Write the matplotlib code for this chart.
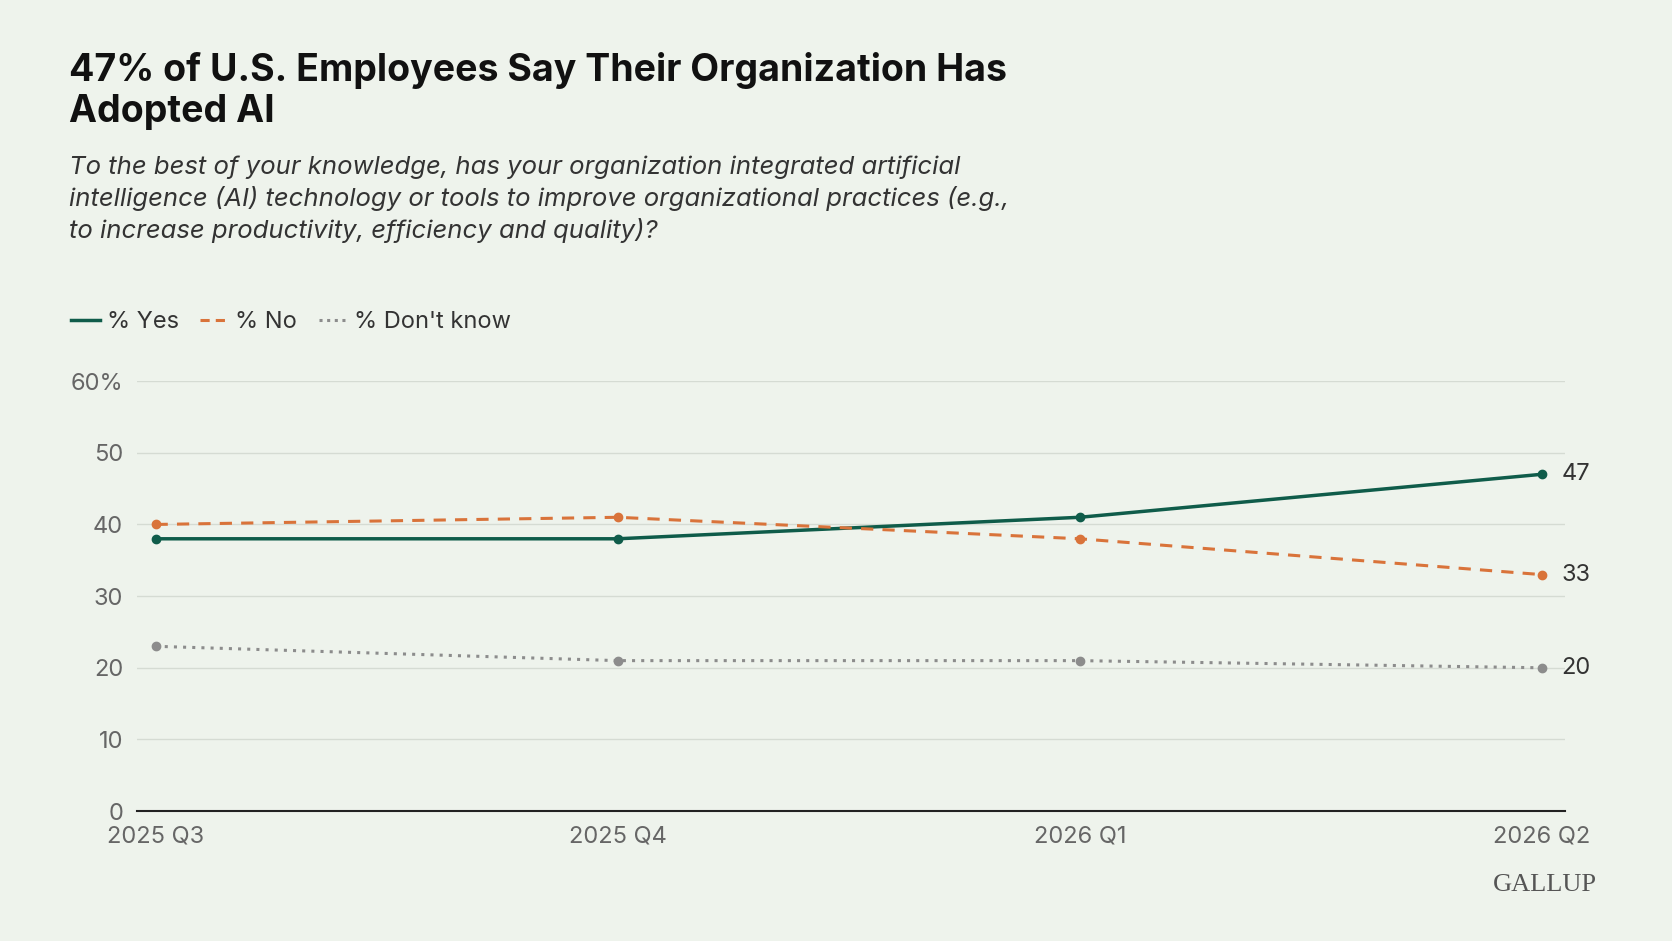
import matplotlib.pyplot as plt
from matplotlib.lines import Line2D

quarters = ['2025 Q3', '2025 Q4', '2026 Q1', '2026 Q2']
yes = [38, 38, 41, 47]
no = [40, 41, 38, 33]
dont_know = [23, 21, 21, 20]
y_ticks = [0, 10, 20, 30, 40, 50, 60]
y_labels = ['0', '10', '20', '30', '40', '50', '60%']

bg = '#eef3ec'
green = '#0f5c4a'
orange = '#d9733a'
grey = '#8c8c8c'

plt.rcParams['font.family'] = ['Inter', 'DejaVu Sans']

fig = plt.figure(figsize=(16.72, 9.41), dpi=100, facecolor=bg)
ax = fig.add_axes([0.082, 0.138, 0.854, 0.457], facecolor=bg)

x = list(range(len(quarters)))
ax.plot(x, yes, color=green, lw=2.5, marker='o', ms=6)
ax.plot(x, no, color=orange, lw=2.2, ls=(0, (4, 3)), marker='o', ms=6)
ax.plot(x, dont_know, color=grey, lw=2.2, ls=(0, (1, 2)), marker='o', ms=6)

for series in [yes, no, dont_know]:
    ax.annotate(str(series[-1]), (x[-1], series[-1]), xytext=(14, 0),
                textcoords='offset points', va='center', ha='left',
                fontsize=17, color='#333333')

ax.set_xlim(-0.04, 3.05)
ax.set_ylim(0, 60)
ax.set_yticks(y_ticks)
ax.set_yticklabels(y_labels)
ax.set_xticks(x)
ax.set_xticklabels(quarters)
ax.grid(axis='y', color='#d5dbd3', lw=1)
ax.set_axisbelow(True)
for s in ['top', 'right', 'left']:
    ax.spines[s].set_visible(False)
ax.spines['bottom'].set_color('#222222')
ax.spines['bottom'].set_linewidth(1.5)
ax.tick_params(axis='both', length=0, labelsize=17, labelcolor='#666666')
ax.tick_params(axis='x', pad=10)
ax.tick_params(axis='y', pad=10)

fig.text(0.041, 0.945, "47% of U.S. Employees Say Their Organization Has\nAdopted AI",
         fontsize=27, fontweight='bold', color='#111111', va='top', linespacing=1.2)
fig.text(0.041, 0.835, "To the best of your knowledge, has your organization integrated artificial\n"
         "intelligence (AI) technology or tools to improve organizational practices (e.g.,\n"
         "to increase productivity, efficiency and quality)?",
         fontsize=18.5, style='italic', color='#333333', va='top', linespacing=1.35)

handles = [Line2D([], [], color=green, lw=2.5),
           Line2D([], [], color=orange, lw=2.2, ls=(0, (3, 2))),
           Line2D([], [], color=grey, lw=2.2, ls=(0, (1, 1.5)))]
fig.legend(handles, ['% Yes', '% No', "% Don't know"], loc='center left',
           bbox_to_anchor=(0.030, 0.658), ncol=3, frameon=False, fontsize=17,
           handlelength=1.2, handletextpad=0.3, columnspacing=0.9, labelcolor='#333333')

fig.text(0.955, 0.053, 'GALLUP', family='Liberation Serif', fontsize=19,
         color='#555555', ha='right')

fig.savefig('out.png', dpi=100, facecolor=bg)
